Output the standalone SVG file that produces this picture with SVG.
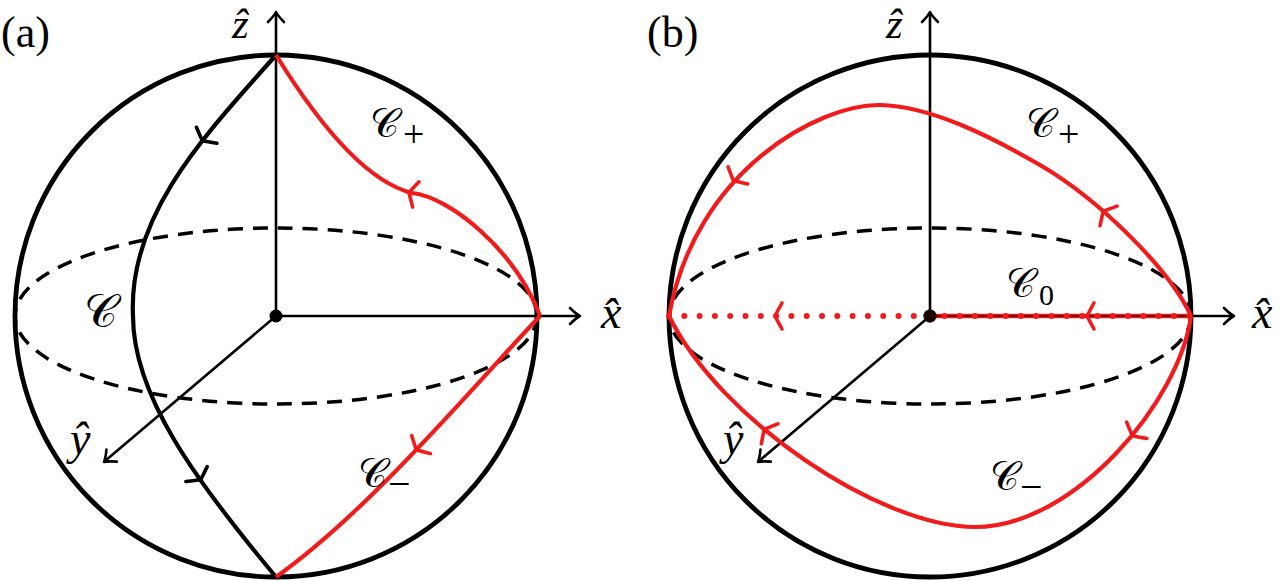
<svg xmlns="http://www.w3.org/2000/svg" xmlns:xlink="http://www.w3.org/1999/xlink" width="1280" height="581" viewBox="0 0 1280 581">
<style>
.sph{fill:none;stroke:#000;stroke-width:4.8}
.eq{fill:none;stroke:#000;stroke-width:3.5;stroke-dasharray:15 10}
.ax{fill:none;stroke:#000;stroke-width:2.6}
.axh{fill:none;stroke:#000;stroke-width:2.6;stroke-linecap:round;stroke-linejoin:round}
.blk{fill:none;stroke:#000;stroke-width:4.2}
.red{fill:none;stroke:#f21b1b;stroke-width:4.2}
.ahb{fill:none;stroke:#000;stroke-width:3.6;stroke-linecap:round;stroke-linejoin:round}
.ahr{fill:none;stroke:#f21b1b;stroke-width:3.6;stroke-linecap:round;stroke-linejoin:round}
.lbl{font-family:'Liberation Serif','DejaVu Serif',serif;fill:#000}
.it{font-family:'Liberation Serif','DejaVu Serif',serif;font-style:italic;fill:#000}
.cal{font-family:'DejaVu Sans','DejaVu Serif','Noto Sans',serif;fill:#000}
</style>
<defs>
<path id="axarrow" d="M-10,-8 Q-4,-2 0,0 Q-4,2 -10,8"/>
<path id="arr" d="M-6,-13 Q-1,-4 1,0 Q-1,4 -6,13"/>
<g id="sphere">
<circle class="sph" cx="0" cy="0" r="261"/>
<ellipse class="eq" cx="0" cy="0" rx="261" ry="88"/>
<line class="ax" x1="0" y1="0" x2="0" y2="-303"/>
<line class="ax" x1="0" y1="0" x2="303" y2="0"/>
<line class="ax" x1="0" y1="0" x2="-171" y2="145"/>
<use xlink:href="#axarrow" class="axh" transform="translate(0,-304) rotate(-90)"/>
<use xlink:href="#axarrow" class="axh" transform="translate(304,0)"/>
<use xlink:href="#axarrow" class="axh" transform="translate(-172,146) rotate(139.7)"/>
<circle cx="0" cy="0" r="6.5" fill="#000"/>
</g>
</defs>
<rect width="1280" height="581" fill="#fff"/>

<g id="panel-a">
<use xlink:href="#sphere" transform="translate(276,316)"/>
<g id="connectors-a">
<path id="curve-C" class="blk" d="M276,55 C205,135 128,215 133,316 C133,395 195,480 276,577"/>
<use xlink:href="#arr" class="ahb" transform="translate(203,140) rotate(128)"/>
<use xlink:href="#arr" class="ahb" transform="translate(200,479) rotate(55)"/>
<path id="curve-Cplus-a" class="red" d="M540,316 C515,250 450,197 412,193 C360,180 310,110 276,55"/>
<use xlink:href="#arr" class="ahr" transform="translate(410,193) rotate(194)"/>
<path id="curve-Cminus-a" class="red" d="M540,316 C470,390 370,510 276,577"/>
<use xlink:href="#arr" class="ahr" transform="translate(417,449) rotate(133.6)"/>
</g>
<g id="labels-a">
<text class="lbl" x="1" y="47" font-size="44">(a)</text>
<text class="it" x="232" y="38" font-size="43">ẑ</text>
<text class="it" x="601" y="328" font-size="46">x̂</text>
<text class="it" x="70" y="454" font-size="46">ŷ</text>
<text class="cal" x="84" y="327" font-size="46">𝒞</text>
<text class="cal" x="370" y="137" font-size="40">𝒞</text>
<text class="lbl" x="403" y="147" font-size="38">+</text>
<text class="cal" x="358" y="487" font-size="40">𝒞</text>
<text class="lbl" x="388" y="497" font-size="40">−</text>
</g>
</g>

<g id="panel-b">
<use xlink:href="#sphere" transform="translate(930,316)"/>
<g id="connectors-b">
<line x1="930" y1="316" x2="1191" y2="316" stroke="#f21b1b" stroke-width="4.5"/>
<line x1="930" y1="316" x2="1191" y2="316" stroke="#3a0000" stroke-width="1.6"/>
<line id="curve-C0" x1="669" y1="316" x2="1191" y2="316" stroke="#f21b1b" stroke-width="6" stroke-linecap="round" stroke-dasharray="0 15.3"/>
<use xlink:href="#arr" class="ahr" transform="translate(776,316) rotate(180)"/>
<use xlink:href="#arr" class="ahr" transform="translate(1088,316) rotate(180)"/>
<path id="curve-Cplus-b" class="red" d="M1191,316 C1170,270 1100,200 1040,165 C990,136 930,106 880,105 C820,104 695,170 669,316"/>
<use xlink:href="#arr" class="ahr" transform="translate(1104,212) rotate(221)"/>
<use xlink:href="#arr" class="ahr" transform="translate(734,180) rotate(130.7)"/>
<path id="curve-Cminus-b" class="red" d="M1191,316 C1180,400 1075,527 975,527 C880,527 720,420 669,316"/>
<use xlink:href="#arr" class="ahr" transform="translate(1133,435) rotate(128.8)"/>
<use xlink:href="#arr" class="ahr" transform="translate(765,430) rotate(219.7)"/>
<circle cx="930" cy="316" r="6.5" fill="#1a0000"/>
</g>
<g id="labels-b">
<text class="lbl" x="647" y="47" font-size="44">(b)</text>
<text class="it" x="886" y="38" font-size="43">ẑ</text>
<text class="it" x="1252" y="328" font-size="46">x̂</text>
<text class="it" x="723" y="454" font-size="46">ŷ</text>
<text class="cal" x="1026" y="137" font-size="40">𝒞</text>
<text class="lbl" x="1058" y="147" font-size="38">+</text>
<text class="cal" x="1006" y="297" font-size="40">𝒞</text>
<text class="lbl" x="1039" y="305" font-size="30">0</text>
<text class="cal" x="990" y="490" font-size="40">𝒞</text>
<text class="lbl" x="1020" y="500" font-size="40">−</text>
</g>
</g>
</svg>
